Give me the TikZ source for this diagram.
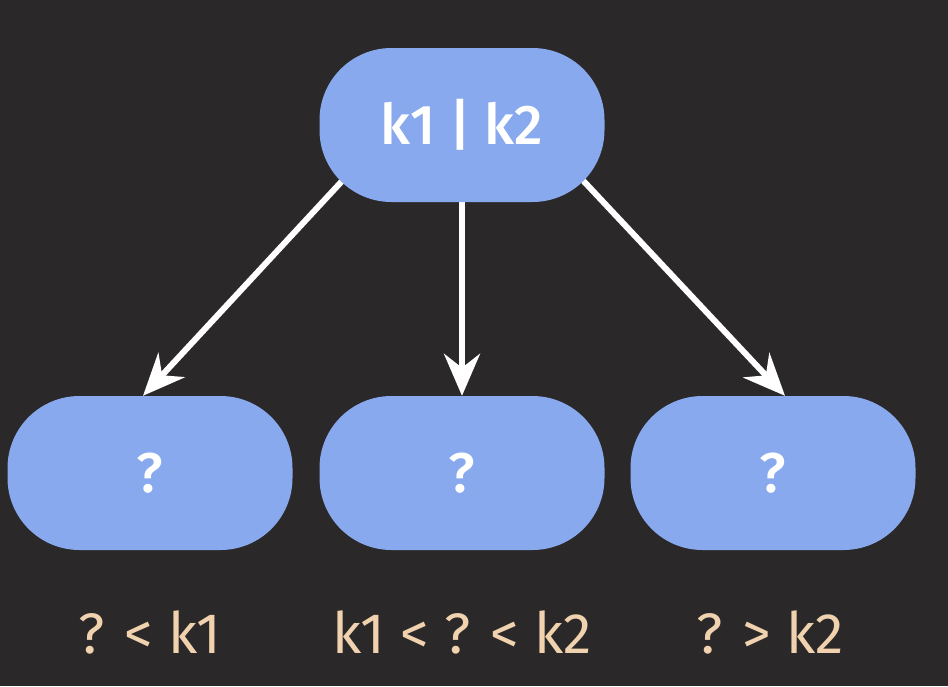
\documentclass[tikz,border=0pt]{standalone}
\usepackage{fontspec}
\setmainfont{Fira Sans}
\newfontfamily\medfont{Fira Sans Medium}
\usetikzlibrary{arrows.meta,backgrounds}
\definecolor{bgc}{HTML}{2A2829}
\definecolor{nodeblue}{HTML}{88A9EE}
\definecolor{labc}{HTML}{F0D2AE}
\tikzset{
  pill/.style={fill=nodeblue, rounded corners=72pt, minimum width=285pt, minimum height=154pt, inner sep=0pt, text=white, font=\fontsize{56}{66}\medfont},
  lab/.style={text=labc, font=\fontsize{57}{66}\selectfont, inner sep=0pt},
  conn/.style={draw=white, line width=6pt, -{Stealth[length=42pt,width=36pt,inset=14pt]}}
}
\begin{document}
\begin{tikzpicture}[x=1pt,y=-1pt]
\useasboundingbox (0,0) rectangle (948,686);
\node[pill] (top) at (462,125) {\raisebox{-3pt}{k1 | k2}};
\node[pill] (l) at (150,473) {\raisebox{-5pt}{?}};
\node[pill] (m) at (462,473) {\raisebox{-5pt}{?}};
\node[pill] (r) at (773,473) {\raisebox{-5pt}{?}};
\node[lab] (ll) at (150,632) {? < k1};
\node[lab] (ml) at (462,632) {k1 < ? < k2};
\node[lab] (rl) at (770,632) {? > k2};
\begin{scope}[on background layer]
\fill[bgc] (0,0) rectangle (948,686);
\draw[conn] ([xshift=-68pt]top.center) -- ([xshift=-7pt]l.north);
\draw[conn] (top.center) -- (m.north);
\draw[conn] ([xshift=69pt]top.center) -- ([xshift=12pt]r.north);
\end{scope}
\end{tikzpicture}
\end{document}
